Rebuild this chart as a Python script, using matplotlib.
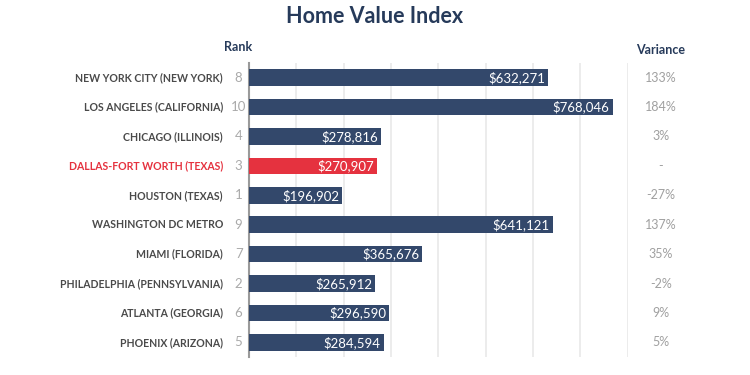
import numpy as np
import matplotlib.pyplot as plt

# data
cities = ['NEW YORK CITY (NEW YORK)', 'LOS ANGELES (CALIFORNIA)', 'CHICAGO (ILLINOIS)',
          'DALLAS-FORT WORTH (TEXAS)', 'HOUSTON (TEXAS)', 'WASHINGTON DC METRO',
          'MIAMI (FLORIDA)', 'PHILADELPHIA (PENNSYLVANIA)', 'ATLANTA (GEORGIA)',
          'PHOENIX (ARIZONA)']
ranks = [8, 10, 4, 3, 1, 9, 7, 2, 6, 5]
values = [632271, 768046, 278816, 270907, 196902, 641121, 365676, 265912, 296590, 284594]
variance = ['133%', '184%', '3%', '-', '-27%', '137%', '35%', '-2%', '9%', '5%']
highlight = 'DALLAS-FORT WORTH (TEXAS)'

navy = '#33486b'
red = '#e5323f'
title_col = '#263a5a'

plt.rcParams['font.family'] = ['Lato', 'DejaVu Sans']

fig = plt.figure(figsize=(7.5, 3.75), dpi=100)
ax = fig.add_axes([0.332, 0.048, 0.505, 0.784])

y = np.arange(len(cities))
colors = [red if c == highlight else navy for c in cities]
ax.barh(y, values, height=0.57, color=colors, zorder=3)

ax.set_xlim(0, 800000)
ax.set_ylim(len(cities) - 0.5, -0.5)
ax.set_xticks(np.arange(100000, 800001, 100000))
ax.xaxis.grid(True, color='#ebebeb', linewidth=1.3, zorder=0)
ax.set_xticklabels([])
ax.tick_params(length=0)
ax.set_yticks([])
for s in ['top', 'right', 'bottom']:
    ax.spines[s].set_visible(False)
ax.spines['left'].set_color('#9a9a9a')
ax.spines['left'].set_linewidth(1.5)

for i, (c, r, v, var) in enumerate(zip(cities, ranks, values, variance)):
    ax.text(v - 6000, i, '${:,}'.format(v), color='white', ha='right', va='center',
            fontsize=9.5, zorder=4)
    ax.text(-22000, i, str(r), color='#aaaaaa', ha='center', va='center', fontsize=9.5)
    ax.text(-55000, i, c, color=red if c == highlight else '#4a4a4a', ha='right',
            va='center', fontsize=7.6, fontweight='bold')
    ax.text(870000, i, var, color='#a0a0a0', ha='center', va='center', fontsize=9)

ax.text(-22000, -0.85, 'Rank', color=title_col, ha='center', va='bottom', fontsize=9,
        fontweight='bold')
ax.text(870000, -0.75, 'Variance', color=title_col, ha='center', va='bottom', fontsize=9,
        fontweight='bold')
fig.text(0.5, 0.985, 'Home Value Index', color=title_col, ha='center', va='top',
         fontsize=15.5, fontweight='bold')

fig.savefig('out.png', dpi=100)
